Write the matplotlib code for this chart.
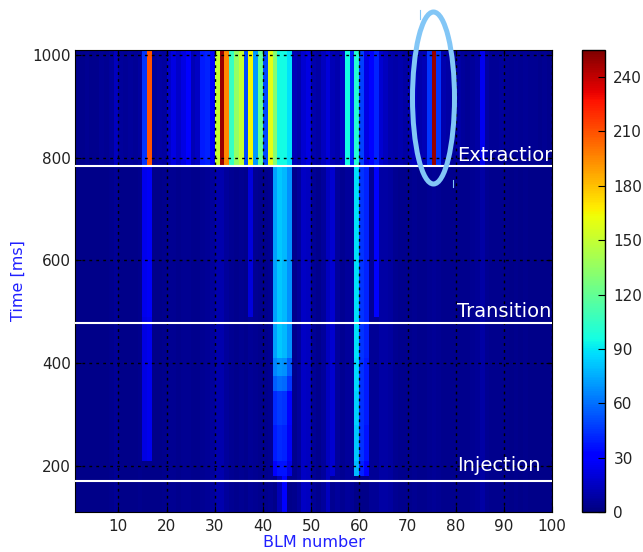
import numpy as np
import matplotlib
matplotlib.use("Agg")
import matplotlib.pyplot as plt
from matplotlib.patches import Ellipse
from matplotlib.lines import Line2D

# BLM monitors and time slices of the cycle (ms)
blm = np.arange(1, 101)
t_edges = [110, 180, 210, 280, 345, 375, 410, 490, 785, 1010]

# losses after extraction (785 - 1010 ms), one value per BLM
extraction_band = [
    3, 3, 4, 3, 3, 5, 4, 6, 14, 6,
    5, 6, 5, 7, 45, 210, 6, 8, 7, 16,
    22, 16, 22, 28, 12, 15, 38, 40, 32, 150,
    250, 195, 105, 135, 150, 50, 165, 70, 120, 50,
    160, 130, 95, 95, 88, 12, 10, 18, 22, 10,
    8, 14, 20, 12, 10, 15, 95, 40, 100, 48,
    22, 30, 40, 18, 14, 10, 9, 10, 8, 12,
    14, 10, 12, 45, 250, 45, 10, 8, 6, 8,
    6, 5, 6, 8, 25, 8, 5, 5, 6, 5,
    4, 5, 4, 5, 4, 4, 3, 4, 3, 3,
]

# quiet level before extraction (110 - 785 ms)
quiet_level = [
    2, 2, 2, 2, 2, 2, 2, 3, 5, 2,
    2, 2, 2, 3, 2, 2, 2, 2, 3, 4,
    4, 3, 4, 4, 3, 3, 4, 5, 6, 10,
    10, 6, 4, 3, 4, 3, 5, 4, 3, 3,
    4, 2, 2, 2, 2, 3, 6, 15, 14, 5,
    3, 6, 14, 15, 6, 4, 6, 5, 2, 2,
    2, 5, 2, 8, 8, 7, 4, 3, 3, 3,
    4, 3, 3, 4, 5, 4, 3, 3, 3, 3,
    3, 3, 4, 5, 8, 4, 3, 3, 3, 3,
    2, 3, 2, 3, 2, 2, 2, 2, 2, 2,
]

# monitors with losses before extraction, one value per slice (110 ... 785 ms)
stripe_levels = {
    15: [2, 2, 22, 22, 22, 22, 22, 24],
    16: [2, 2, 24, 24, 24, 24, 24, 26],
    37: [5, 5, 5, 5, 5, 5, 5, 20],
    42: [2, 30, 38, 42, 55, 65, 72, 72],
    43: [12, 36, 42, 46, 60, 70, 82, 82],
    44: [32, 36, 40, 44, 58, 68, 78, 78],
    45: [2, 22, 26, 30, 45, 55, 68, 68],
    54: [4, 18, 18, 18, 18, 18, 18, 18],
    59: [2, 78, 82, 84, 86, 86, 88, 88],
    60: [2, 40, 44, 44, 44, 44, 45, 45],
    61: [2, 30, 36, 38, 38, 38, 40, 40],
    63: [5, 5, 5, 5, 5, 5, 5, 32],
}

# cycle events (ms) and label heights
event_names = ["Extraction", "Transition", "Injection"]
event_times = [783, 478, 170]
label_times = [793, 489, 189]


def build_map():
    z = np.tile(np.array(quiet_level, dtype=float), (len(t_edges) - 1, 1))
    for b, vals in stripe_levels.items():
        z[:len(vals), b - 1] = vals
    z[-1] = extraction_band
    return z


def main():
    fig = plt.figure(figsize=(6.43, 5.52), dpi=100)
    ax = fig.add_axes([0.1166, 0.0725, 0.742, 0.837])
    cax = fig.add_axes([0.9051, 0.0725, 0.0358, 0.837])

    x_edges = np.append(blm, blm[-1] + 1)
    mesh = ax.pcolormesh(x_edges, t_edges, build_map(), cmap="jet",
                         vmin=0, vmax=255, shading="flat")
    ax.set_xlim(1, 100)
    ax.set_ylim(110, 1010)

    ax.set_xticks(range(10, 101, 10))
    ax.set_yticks(range(200, 1001, 200))
    ax.tick_params(direction="in", length=4, labelsize=11, top=True, right=True,
                   labelcolor="#222222")
    ax.tick_params(axis="x", pad=5)
    ax.tick_params(axis="y", pad=3)
    ax.set_axisbelow(False)
    ax.grid(True, color="k", linestyle=(0, (2, 3)), linewidth=1.0)

    ax.set_xlabel("BLM number", color="#2020ff", fontsize=11.5, labelpad=1)
    ax.set_ylabel("Time [ms]", color="#2020ff", fontsize=11.5, labelpad=5)

    # event markers
    for name, t, ty in zip(event_names, event_times, label_times):
        ax.axhline(t, color="white", linewidth=1.5, zorder=3)
        ax.text(80.2, ty, name, color="white", fontsize=14, va="baseline",
                ha="left", clip_on=True, zorder=4)

    cb = fig.colorbar(mesh, cax=cax)
    cb.set_ticks(range(0, 241, 30))
    cb.ax.tick_params(direction="in", length=5, labelsize=11, pad=6,
                      labelcolor="#222222")
    cb.outline.set_linewidth(1.0)

    # highlight around BLM 75 after extraction
    ring = Ellipse((433.5 / 643, 1 - 98 / 552), 42 / 643, 172 / 552,
                   transform=fig.transFigure, fill=False,
                   edgecolor="#82c6f6", linewidth=3.6, zorder=10)
    fig.add_artist(ring)
    for x0, y0, y1 in [(420, 10, 19), (452.7, 180, 187)]:
        fig.add_artist(Line2D([x0 / 643, x0 / 643], [1 - y0 / 552, 1 - y1 / 552],
                              transform=fig.transFigure, color="#82c6f6",
                              linewidth=0.8))

    fig.savefig("out.png", dpi=100)


if __name__ == "__main__":
    main()
